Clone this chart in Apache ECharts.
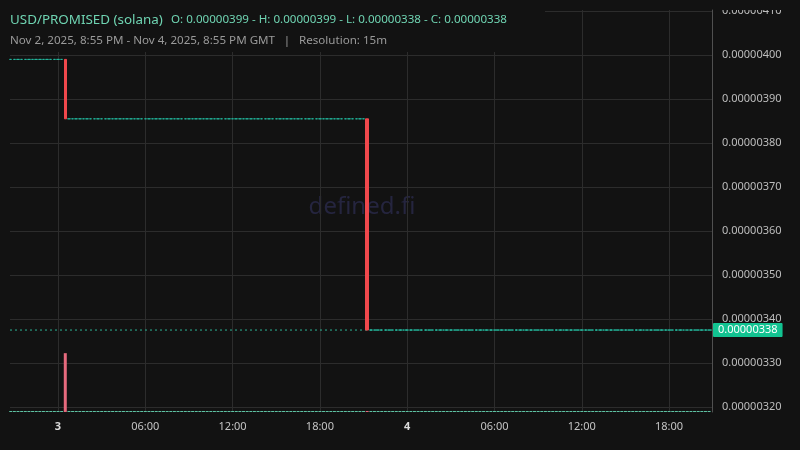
<!DOCTYPE html>
<html>
<head>
<meta charset="utf-8">
<script src="https://cdn.jsdelivr.net/npm/echarts@6/dist/echarts.min.js"></script>
<style>
  html, body { margin: 0; padding: 0; background: #121212; }
  #chart { width: 800px; height: 450px; }
</style>
</head>
<body>
<div id="chart"></div>
<script>
// ---- Data (USD per PROMISED), 15-minute candles starting Nov 2, 2025 20:45 GMT ----
const pairName = 'USD/PROMISED (solana)';
const rangeText = 'Nov 2, 2025, 8:55 PM - Nov 4, 2025, 8:55 PM GMT';
const resolutionText = 'Resolution: 15m';
const startTime = Date.UTC(2025, 10, 2, 20, 45);
const resolutionMs = 15 * 60 * 1000;
const viewStart = Date.UTC(2025, 10, 2, 20, 42);
const viewEnd = Date.UTC(2025, 10, 4, 20, 57);

const opens = [
  3.99e-6,3.99e-6,3.99e-6,3.99e-6,3.99e-6,3.99e-6,3.99e-6,3.99e-6,3.99e-6,3.99e-6,
  3.99e-6,3.99e-6,3.99e-6,3.99e-6,3.99e-6,3.99e-6,
  3.855e-6,3.855e-6,3.855e-6,3.855e-6,3.855e-6,3.855e-6,3.855e-6,3.855e-6,3.855e-6,3.855e-6,
  3.855e-6,3.855e-6,3.855e-6,3.855e-6,3.855e-6,3.855e-6,3.855e-6,3.855e-6,3.855e-6,3.855e-6,
  3.855e-6,3.855e-6,3.855e-6,3.855e-6,3.855e-6,3.855e-6,3.855e-6,3.855e-6,3.855e-6,3.855e-6,
  3.855e-6,3.855e-6,3.855e-6,3.855e-6,3.855e-6,3.855e-6,3.855e-6,3.855e-6,3.855e-6,3.855e-6,
  3.855e-6,3.855e-6,3.855e-6,3.855e-6,3.855e-6,3.855e-6,3.855e-6,3.855e-6,3.855e-6,3.855e-6,
  3.855e-6,3.855e-6,3.855e-6,3.855e-6,3.855e-6,3.855e-6,3.855e-6,3.855e-6,3.855e-6,3.855e-6,
  3.855e-6,3.855e-6,3.855e-6,3.855e-6,3.855e-6,3.855e-6,3.855e-6,3.855e-6,3.855e-6,3.855e-6,
  3.855e-6,3.855e-6,3.855e-6,3.855e-6,3.855e-6,3.855e-6,3.855e-6,3.855e-6,3.855e-6,3.855e-6,
  3.855e-6,3.855e-6,3.855e-6,
  3.3752e-6,3.3752e-6,3.3752e-6,3.3752e-6,3.3752e-6,3.3752e-6,3.3752e-6,3.3752e-6,3.3752e-6,3.3752e-6,
  3.3752e-6,3.3752e-6,3.3752e-6,3.3752e-6,3.3752e-6,3.3752e-6,3.3752e-6,3.3752e-6,3.3752e-6,3.3752e-6,
  3.3752e-6,3.3752e-6,3.3752e-6,3.3752e-6,3.3752e-6,3.3752e-6,3.3752e-6,3.3752e-6,3.3752e-6,3.3752e-6,
  3.3752e-6,3.3752e-6,3.3752e-6,3.3752e-6,3.3752e-6,3.3752e-6,3.3752e-6,3.3752e-6,3.3752e-6,3.3752e-6,
  3.3752e-6,3.3752e-6,3.3752e-6,3.3752e-6,3.3752e-6,3.3752e-6,3.3752e-6,3.3752e-6,3.3752e-6,3.3752e-6,
  3.3752e-6,3.3752e-6,3.3752e-6,3.3752e-6,3.3752e-6,3.3752e-6,3.3752e-6,3.3752e-6,3.3752e-6,3.3752e-6,
  3.3752e-6,3.3752e-6,3.3752e-6,3.3752e-6,3.3752e-6,3.3752e-6,3.3752e-6,3.3752e-6,3.3752e-6,3.3752e-6,
  3.3752e-6,3.3752e-6,3.3752e-6,3.3752e-6,3.3752e-6,3.3752e-6,3.3752e-6,3.3752e-6,3.3752e-6,3.3752e-6,
  3.3752e-6,3.3752e-6,3.3752e-6,3.3752e-6,3.3752e-6,3.3752e-6,3.3752e-6,3.3752e-6,3.3752e-6,3.3752e-6,
  3.3752e-6,3.3752e-6,3.3752e-6,3.3752e-6
];
const closes = [
  3.99e-6,3.99e-6,3.99e-6,3.99e-6,3.99e-6,3.99e-6,3.99e-6,3.99e-6,3.99e-6,3.99e-6,
  3.99e-6,3.99e-6,3.99e-6,3.99e-6,3.99e-6,
  3.855e-6,3.855e-6,3.855e-6,3.855e-6,3.855e-6,3.855e-6,3.855e-6,3.855e-6,3.855e-6,3.855e-6,
  3.855e-6,3.855e-6,3.855e-6,3.855e-6,3.855e-6,3.855e-6,3.855e-6,3.855e-6,3.855e-6,3.855e-6,
  3.855e-6,3.855e-6,3.855e-6,3.855e-6,3.855e-6,3.855e-6,3.855e-6,3.855e-6,3.855e-6,3.855e-6,
  3.855e-6,3.855e-6,3.855e-6,3.855e-6,3.855e-6,3.855e-6,3.855e-6,3.855e-6,3.855e-6,3.855e-6,
  3.855e-6,3.855e-6,3.855e-6,3.855e-6,3.855e-6,3.855e-6,3.855e-6,3.855e-6,3.855e-6,3.855e-6,
  3.855e-6,3.855e-6,3.855e-6,3.855e-6,3.855e-6,3.855e-6,3.855e-6,3.855e-6,3.855e-6,3.855e-6,
  3.855e-6,3.855e-6,3.855e-6,3.855e-6,3.855e-6,3.855e-6,3.855e-6,3.855e-6,3.855e-6,3.855e-6,
  3.855e-6,3.855e-6,3.855e-6,3.855e-6,3.855e-6,3.855e-6,3.855e-6,3.855e-6,3.855e-6,3.855e-6,
  3.855e-6,3.855e-6,3.855e-6,
  3.3752e-6,3.3752e-6,3.3752e-6,3.3752e-6,3.3752e-6,3.3752e-6,3.3752e-6,3.3752e-6,3.3752e-6,3.3752e-6,
  3.3752e-6,3.3752e-6,3.3752e-6,3.3752e-6,3.3752e-6,3.3752e-6,3.3752e-6,3.3752e-6,3.3752e-6,3.3752e-6,
  3.3752e-6,3.3752e-6,3.3752e-6,3.3752e-6,3.3752e-6,3.3752e-6,3.3752e-6,3.3752e-6,3.3752e-6,3.3752e-6,
  3.3752e-6,3.3752e-6,3.3752e-6,3.3752e-6,3.3752e-6,3.3752e-6,3.3752e-6,3.3752e-6,3.3752e-6,3.3752e-6,
  3.3752e-6,3.3752e-6,3.3752e-6,3.3752e-6,3.3752e-6,3.3752e-6,3.3752e-6,3.3752e-6,3.3752e-6,3.3752e-6,
  3.3752e-6,3.3752e-6,3.3752e-6,3.3752e-6,3.3752e-6,3.3752e-6,3.3752e-6,3.3752e-6,3.3752e-6,3.3752e-6,
  3.3752e-6,3.3752e-6,3.3752e-6,3.3752e-6,3.3752e-6,3.3752e-6,3.3752e-6,3.3752e-6,3.3752e-6,3.3752e-6,
  3.3752e-6,3.3752e-6,3.3752e-6,3.3752e-6,3.3752e-6,3.3752e-6,3.3752e-6,3.3752e-6,3.3752e-6,3.3752e-6,
  3.3752e-6,3.3752e-6,3.3752e-6,3.3752e-6,3.3752e-6,3.3752e-6,3.3752e-6,3.3752e-6,3.3752e-6,3.3752e-6,
  3.3752e-6,3.3752e-6,3.3752e-6,3.3752e-6,3.3752e-6
];
const highs = opens.slice();
const lows = closes.slice();
const volumes = [
  2,2,2,2,2,2,2,2,2,2, 2,2,2,2,2, 120,
  2,2,2,2,2,2,2,2,2,2, 2,2,2,2,2,2,2,2,2,2, 2,2,2,2,2,2,2,2,2,2, 2,2,2,2,2,2,2,2,2,2,
  2,2,2,2,2,2,2,2,2,2, 2,2,2,2,2,2,2,2,2,2, 2,2,2,2,2,2,2,2,2,2, 2,2,2,2,2,2,2,2,2,2,
  2,2,
  2,
  2,2,2,2,2,2,2,2,2,2, 2,2,2,2,2,2,2,2,2,2, 2,2,2,2,2,2,2,2,2,2, 2,2,2,2,2,2,2,2,2,2,
  2,2,2,2,2,2,2,2,2,2, 2,2,2,2,2,2,2,2,2,2, 2,2,2,2,2,2,2,2,2,2, 2,2,2,2,2,2,2,2,2,2,
  2,2,2,2,2,2,2,2,2,2, 2,2,2,2
];
const yTickValues = [3.2e-6, 3.3e-6, 3.4e-6, 3.5e-6, 3.6e-6, 3.7e-6, 3.8e-6, 3.9e-6, 4.0e-6, 4.1e-6];
const xTickValues = [
  Date.UTC(2025, 10, 3, 0), Date.UTC(2025, 10, 3, 6), Date.UTC(2025, 10, 3, 12), Date.UTC(2025, 10, 3, 18),
  Date.UTC(2025, 10, 4, 0), Date.UTC(2025, 10, 4, 6), Date.UTC(2025, 10, 4, 12), Date.UTC(2025, 10, 4, 18)
];

// ---- Build series data ----
const times = closes.map((_, i) => startTime + i * resolutionMs);
const candleData = closes.map((c, i) => [times[i], opens[i], c, lows[i], highs[i]]);
const volumeData = volumes.map((v, i) => [times[i], v]);

const fmt = v => v.toFixed(8);
const lastClose = closes[closes.length - 1];
const priceLineData = [[viewStart, lastClose], [viewEnd, lastClose]];
const ohlcText = 'O: ' + fmt(opens[0]) + ' - H: ' + fmt(Math.max(...highs)) +
  ' - L: ' + fmt(Math.min(...lows)) + ' - C: ' + fmt(lastClose);

const UP = '#22b59b';
const DOWN = '#f0484c';
const FONT = '"Noto Sans", "Open Sans", sans-serif';

const chart = echarts.init(document.getElementById('chart'), null, { renderer: 'canvas' });
chart.setOption({
  backgroundColor: '#121212',
  animation: false,
  grid: { left: 10, right: 88, top: 10, bottom: 38 },
  xAxis: {
    type: 'value',
    min: viewStart,
    max: viewEnd,
    axisLine: { show: false },
    axisTick: { show: false, customValues: xTickValues },
    splitLine: { show: true, lineStyle: { color: '#2c2c2c', width: 1 } },
    axisLabel: {
      customValues: xTickValues,
      margin: 9,
      color: '#c4c4c4',
      fontSize: 11,
      fontFamily: FONT,
      formatter: v => {
        const d = new Date(v);
        const h = d.getUTCHours();
        if (h === 0) return '{b|' + d.getUTCDate() + '}';
        return String(h).padStart(2, '0') + ':00';
      },
      rich: { b: { fontWeight: 'bold', color: '#dcdcdc', fontSize: 11, fontFamily: FONT } }
    }
  },
  yAxis: [{
    type: 'value',
    position: 'right',
    min: 3.189e-6,
    max: 4.1022e-6,
    axisLine: { show: true, lineStyle: { color: '#505050' } },
    axisTick: { show: false, customValues: yTickValues },
    splitLine: { show: true, lineStyle: { color: '#2c2c2c', width: 1 } },
    axisLabel: {
      customValues: yTickValues,
      margin: 10,
      color: '#bdbdbd',
      fontSize: 11,
      fontFamily: FONT,
      formatter: v => fmt(v)
    }
  }, {
    type: 'value',
    min: 0,
    max: 820,
    show: false
  }],
  graphic: [
    {
      type: 'text', z: -10, silent: true,
      style: { x: 362, y: 207, text: 'defined.fi', fill: '#25253f', font: '24px ' + FONT, textAlign: 'center', textVerticalAlign: 'middle' }
    },
    { type: 'rect', z: 100, shape: { x: 0, y: 0, width: 545, height: 52 }, style: { fill: '#121212' } },
    { type: 'rect', z: 100, shape: { x: 713, y: 0, width: 87, height: 10 }, style: { fill: '#121212' } },
    { type: 'text', z: 101, style: { x: 10, y: 20, text: pairName, fill: '#6fd4b2', font: '13.4px ' + FONT, textVerticalAlign: 'middle' } },
    { type: 'text', z: 101, style: { x: 171, y: 20, text: ohlcText, fill: '#6fd4b2', font: '11.6px ' + FONT, textVerticalAlign: 'middle' } },
    { type: 'text', z: 101, style: { x: 10, y: 41, text: rangeText, fill: '#9a9a9a', font: '11.6px ' + FONT, textVerticalAlign: 'middle' } },
    { type: 'text', z: 101, style: { x: 287, y: 41, text: '|', fill: '#9a9a9a', font: '11.6px ' + FONT, textVerticalAlign: 'middle', textAlign: 'center' } },
    { type: 'text', z: 101, style: { x: 299, y: 41, text: resolutionText, fill: '#9a9a9a', font: '11.6px ' + FONT, textVerticalAlign: 'middle' } }
  ],
  series: [
    {
      type: 'bar',
      name: 'Volume',
      yAxisIndex: 1,
      data: volumeData,
      barWidth: 3,
      z: 1,
      itemStyle: {
        color: p => (closes[p.dataIndex] < opens[p.dataIndex] ? '#e66a7d' : '#5fc2a3')
      }
    },
    {
      type: 'line',
      name: 'Last price',
      data: priceLineData,
      showSymbol: false,
      symbol: 'none',
      silent: true,
      z: 2,
      lineStyle: { color: '#2bb596', type: [2, 3], width: 1 },
      endLabel: {
        show: true,
        distance: 1,
        formatter: () => fmt(lastClose),
        color: '#ffffff',
        fontSize: 11,
        fontFamily: FONT,
        backgroundColor: '#12c391',
        padding: [2, 5, 1, 5],
        borderRadius: 1
      }
    },
    {
      type: 'candlestick',
      name: pairName,
      data: candleData,
      encode: { x: 0, y: [1, 2, 3, 4] },
      barWidth: 3,
      z: 3,
      itemStyle: {
        color: UP, color0: DOWN,
        borderColor: UP, borderColor0: DOWN,
        borderColorDoji: UP,
        borderWidth: 1
      }
    }
  ]
});
</script>
</body>
</html>
